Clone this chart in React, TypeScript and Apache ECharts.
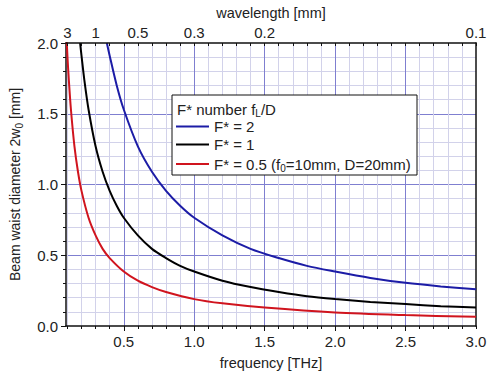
import React, { useEffect, useRef } from 'react';
import * as echarts from 'echarts';

const FONT = '"Liberation Sans", Arial, Helvetica, sans-serif';
const TEXT = '#222222';
const AXIS = '#111111';
const BLUE_GRID = '#7f7fd0';
const GRAY_GRID = '#d2d2ea';

const seriesNames = ['F* = 2', 'F* = 1', 'F* = 0.5 (f0=10mm, D=20mm)'];
const seriesColors = ['#1c1ca6', '#000000', '#d0141e'];

// F* = 2
const freqF2 = [0.38, 0.4, 0.45, 0.5, 0.6, 0.7, 0.8, 0.9, 1.0, 1.2, 1.4, 1.6, 1.8, 2.0, 2.25, 2.5, 2.75, 3.0];
const waistF2 = [2.0, 1.91, 1.7, 1.53, 1.27, 1.09, 0.955, 0.85, 0.765, 0.64, 0.545, 0.48, 0.425, 0.385, 0.34, 0.305, 0.28, 0.26];
// F* = 1
const freqF1 = [0.19, 0.2, 0.22, 0.25, 0.3, 0.35, 0.4, 0.45, 0.5, 0.6, 0.7, 0.8, 0.9, 1.0, 1.2, 1.4, 1.6, 1.8, 2.0, 2.25, 2.5, 2.75, 3.0];
const waistF1 = [2.0, 1.91, 1.74, 1.53, 1.27, 1.09, 0.955, 0.85, 0.765, 0.64, 0.545, 0.48, 0.425, 0.385, 0.32, 0.275, 0.24, 0.21, 0.19, 0.17, 0.155, 0.14, 0.13];
// F* = 0.5
const freqF05 = [0.09, 0.1, 0.11, 0.125, 0.15, 0.175, 0.2, 0.25, 0.3, 0.35, 0.4, 0.5, 0.6, 0.7, 0.8, 1.0, 1.2, 1.5, 2.0, 2.5, 3.0];
const waistF05 = [2.12, 1.91, 1.74, 1.53, 1.27, 1.09, 0.955, 0.765, 0.64, 0.545, 0.48, 0.385, 0.32, 0.275, 0.24, 0.19, 0.16, 0.13, 0.095, 0.077, 0.065];

const FREQ_MIN = 0.09;
const FREQ_MAX = 3.0;
const freqMinorTicks = [0.1, 0.2, 0.3, 0.4, 0.5, 0.6, 0.7, 0.8, 0.9, 1.0, 1.1, 1.2, 1.3, 1.4, 1.5, 1.6, 1.7, 1.8, 1.9, 2.0, 2.1, 2.2, 2.3, 2.4, 2.5, 2.6, 2.7, 2.8, 2.9, 3.0];
const freqMinorGrid = [0.1, 0.2, 0.3, 0.4, 0.6, 0.7, 0.8, 0.9, 1.1, 1.2, 1.3, 1.4, 1.6, 1.7, 1.8, 1.9, 2.1, 2.2, 2.3, 2.4, 2.6, 2.7, 2.8, 2.9];
const freqMajorGrid = [0.5, 1.0, 1.5, 2.0, 2.5];
const freqLabels = [0.5, 1.0, 1.5, 2.0, 2.5, 3.0];
const wavelengthTickFreq = [0.1, 0.3, 0.6, 1.0, 1.5, 3.0];
const wavelengthLabels = ['3', '1', '0.5', '0.3', '0.2', '0.1'];

const zip = (xs: number[], ys: number[]) => xs.map((x, i) => [x, ys[i]]);

export default function App() {
  const ref = useRef<HTMLDivElement>(null);
  useEffect(() => {
    if (!ref.current) return;
    const chart = echarts.init(ref.current, undefined, { renderer: 'svg' });
    const subRich = { sub: { fontSize: 10, fontFamily: FONT, color: TEXT, verticalAlign: 'bottom', lineHeight: 18 } };
    const dataSets = [zip(freqF2, waistF2), zip(freqF1, waistF1), zip(freqF05, waistF05)];
    chart.setOption({
      animation: false,
      backgroundColor: '#ffffff',
      textStyle: { fontFamily: FONT },
      grid: { left: 65, right: 24, top: 40, bottom: 49 },
      xAxis: [
        {
          type: 'value', position: 'bottom', min: FREQ_MIN, max: FREQ_MAX, z: 3,
          axisLine: { show: true, onZero: false, lineStyle: { color: AXIS, width: 1.5 } },
          axisTick: { show: true, inside: false, length: 3, customValues: freqMinorTicks, lineStyle: { color: AXIS } },
          axisLabel: {
            customValues: freqLabels, formatter: (v: number) => v.toFixed(1),
            fontSize: 15, color: TEXT, fontFamily: FONT, margin: 8, showMinLabel: true, showMaxLabel: true,
          },
          splitLine: { show: false },
          name: 'frequency [THz]', nameLocation: 'middle', nameGap: 29,
          nameTextStyle: { fontSize: 14.5, color: TEXT, fontFamily: FONT },
        },
        {
          type: 'value', position: 'bottom', min: FREQ_MIN, max: FREQ_MAX, z: 0,
          axisLine: { show: false, onZero: false },
          axisTick: { show: false, customValues: freqMinorGrid },
          axisLabel: { show: false },
          splitLine: { show: true, lineStyle: { color: GRAY_GRID, width: 1 } },
        },
        {
          type: 'value', position: 'bottom', min: FREQ_MIN, max: FREQ_MAX, z: 0,
          axisLine: { show: false, onZero: false },
          axisTick: { show: true, inside: false, length: 5, customValues: freqMajorGrid, lineStyle: { color: AXIS } },
          axisLabel: { show: false },
          splitLine: { show: true, lineStyle: { color: BLUE_GRID, width: 1 } },
        },
        {
          type: 'value', position: 'top', min: FREQ_MIN, max: FREQ_MAX, z: 3,
          axisLine: { show: true, onZero: false, lineStyle: { color: AXIS, width: 1.5 } },
          axisTick: { show: true, inside: true, length: 3, customValues: freqMinorTicks, lineStyle: { color: AXIS } },
          axisLabel: {
            customValues: wavelengthTickFreq,
            formatter: (v: number) => {
              const i = wavelengthTickFreq.findIndex((f) => Math.abs(f - v) < 1e-6);
              return i >= 0 ? wavelengthLabels[i] : '';
            },
            fontSize: 15, color: TEXT, fontFamily: FONT, margin: 3, showMinLabel: true, showMaxLabel: true,
          },
          splitLine: { show: false },
          name: 'wavelength [mm]', nameLocation: 'middle', nameGap: 23,
          nameTextStyle: { fontSize: 14.5, color: TEXT, fontFamily: FONT },
        },
      ],
      yAxis: [
        {
          type: 'value', position: 'left', min: 0, max: 2, interval: 0.5,
          axisLine: { show: true, onZero: false, lineStyle: { color: AXIS, width: 1.5 } },
          axisTick: { show: true, inside: false, length: 5, lineStyle: { color: AXIS } },
          minorTick: { show: true, splitNumber: 5, length: 3, lineStyle: { color: AXIS } },
          axisLabel: {
            formatter: (v: number) => v.toFixed(1), fontSize: 15, color: TEXT, fontFamily: FONT,
            margin: 8, showMinLabel: true, showMaxLabel: true,
          },
          splitLine: { show: true, showMinLine: false, showMaxLine: false, lineStyle: { color: BLUE_GRID, width: 1 } },
          minorSplitLine: { show: true, lineStyle: { color: GRAY_GRID, width: 1 } },
          name: 'Beam waist diameter 2w{sub|0} [mm]', nameLocation: 'middle', nameGap: 42, nameRotate: 90,
          nameTextStyle: { fontSize: 14, color: TEXT, fontFamily: FONT, rich: subRich },
        },
        {
          type: 'value', position: 'right', min: 0, max: 2, interval: 0.5,
          axisLine: { show: true, onZero: false, lineStyle: { color: AXIS, width: 1.5 } },
          axisTick: { show: false }, axisLabel: { show: false }, splitLine: { show: false },
        },
      ],
      legend: {
        data: seriesNames,
        orient: 'vertical', left: 176, top: 119, padding: 0,
        icon: 'rect', itemWidth: 33, itemHeight: 2, itemGap: 3, z: 6,
        textStyle: { fontSize: 15, lineHeight: 14, color: TEXT, fontFamily: FONT, rich: subRich },
        formatter: (name: string) => name.replace('(f0', '(f{sub|0}'),
      },
      graphic: [
        {
          type: 'rect', z: 5, shape: { x: 172, y: 95, width: 245, height: 80 },
          style: { fill: '#ffffff', stroke: AXIS, lineWidth: 1 },
        },
        {
          type: 'text', z: 7, x: 177, y: 109,
          style: {
            text: 'F* number f{sub|L}/D', fontSize: 15, fontFamily: FONT, fill: TEXT,
            verticalAlign: 'middle', rich: { sub: { fontSize: 10, fontFamily: FONT, fill: TEXT, verticalAlign: 'bottom', lineHeight: 18 } },
          },
        },
      ],
      series: seriesNames.map((name, i) => ({
        name, type: 'line', xAxisIndex: 0, yAxisIndex: 0,
        data: dataSets[i], smooth: 0.3,
        symbol: 'none', showSymbol: false, clip: true, z: 2,
        lineStyle: { color: seriesColors[i], width: 2 },
        itemStyle: { color: seriesColors[i] },
      })),
    });
    return () => chart.dispose();
  }, []);
  return <div ref={ref} style={{ position: 'fixed', left: 0, top: 0, width: 500, height: 375 }} />;
}
